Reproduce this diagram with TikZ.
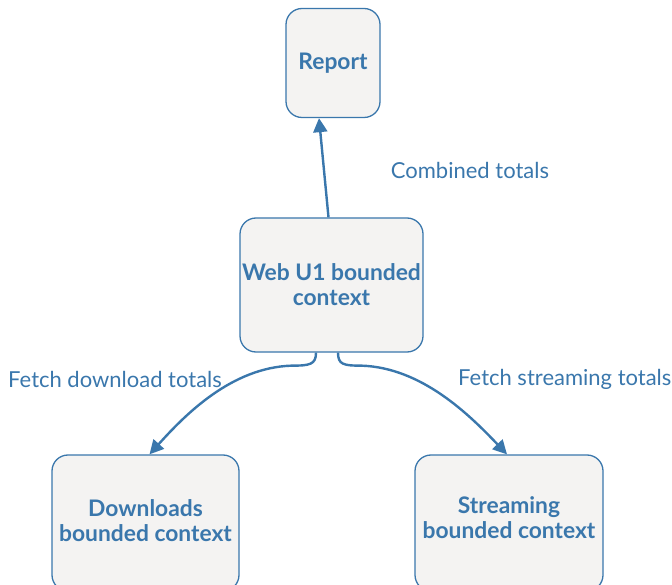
\documentclass[tikz,border=0pt]{standalone}
\usepackage{fontspec}
\setmainfont{Lato}
\usetikzlibrary{arrows.meta,calc}
\definecolor{cblue}{HTML}{3A77AC}
\definecolor{cfill}{HTML}{F4F3F2}
\tikzset{
  ctx/.style={draw=cblue, line width=1.3pt, fill=cfill, rounded corners=16pt,
    align=center, text=cblue, font=\fontsize{22.8}{25}\selectfont\bfseries, inner sep=0pt},
  conn/.style={draw=cblue, line width=2.4pt, -{Triangle[length=14pt,width=14pt]}},
  lbl/.style={text=cblue, font=\fontsize{22}{24}\selectfont, inner sep=0pt},
}
\begin{document}
\begin{tikzpicture}[x=1pt,y=-1pt]
\useasboundingbox (0,0) rectangle (672,585);
\clip (0,0) rectangle (672,585);
\node[ctx, minimum width=94pt, minimum height=109pt] (report) at (333,63) {Report};
\node[ctx, minimum width=183pt, minimum height=134pt] (web) at (331.5,285) {Web U1 bounded\\context};
\node[ctx, minimum width=187pt, minimum height=136pt] (down) at (145.5,523) {};
\node[ctx, minimum width=188pt, minimum height=136pt] (stream) at (509,523) {};
\node[ctx, draw=none, fill=none] (downtxt) at (145.5,521) {Downloads\\bounded context};
\node[ctx, draw=none, fill=none] (streamtxt) at (509,518) {Streaming\\bounded context};
\draw[conn] ($(web.north)+(-3,0)$) -- ($(report.south)+(-14,0)$);
\draw[conn] ($(web.south)+(-15.5,0)$) .. controls ($(web.south)+(-15.5,12)$) and ($(web.south)+(-22,13)$) .. ($(web.south)+(-40,13)$)
  .. controls ($(web.south)+(-100,15)$) and ($(down.north)+(40,-40)$) .. ($(down.north)+(4,0)$);
\draw[conn] ($(web.south)+(6.5,0)$) .. controls ($(web.south)+(6.5,12)$) and ($(web.south)+(12,13)$) .. ($(web.south)+(30,13)$)
  .. controls ($(web.south)+(90,15)$) and ($(stream.north)+(-40,-40)$) .. ($(stream.north)+(-2,0)$);
\node[lbl] (l1) at (470,170) {Combined totals};
\node[lbl, anchor=west] (l2) at (8,379) {Fetch download totals};
\node[lbl, anchor=west] (l3) at (458,379) {Fetch streaming totals};
\end{tikzpicture}
\end{document}
